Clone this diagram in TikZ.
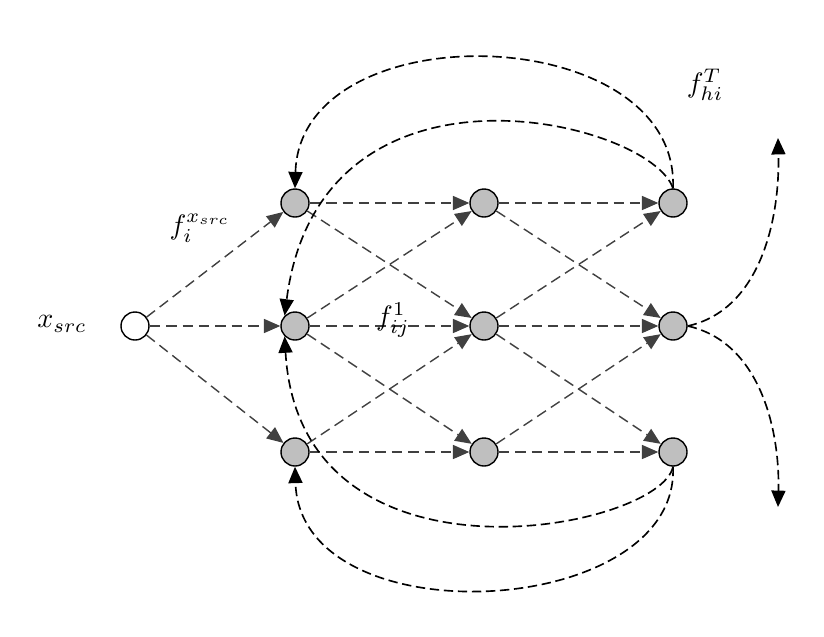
\documentclass[tikz,border=0pt]{standalone}
\usetikzlibrary{arrows.meta}
\begin{document}
\begin{tikzpicture}[x=0.03cm,y=-0.03cm,
  nd/.style={circle,draw,line width=1.2pt,fill=gray!50,minimum size=0.84cm,inner sep=0},
  src/.style={nd,fill=white},
  ge/.style={draw=black!75,dash pattern=on 9pt off 5pt,line width=1.2pt,-{Triangle[length=14pt,width=12pt]}},
  be/.style={draw=black,dash pattern=on 8pt off 4pt,line width=1.4pt,-{Triangle[length=14pt,width=12pt]}},
  lb/.style={}]
\useasboundingbox (0,0) rectangle (824,636);
\node[src] (s) at (135,326) {};
\foreach \c/\x in {a/295,b/484,c/673}{
  \node[nd] (\c1) at (\x,203) {};
  \node[nd] (\c2) at (\x,326) {};
  \node[nd] (\c3) at (\x,452) {};}
\foreach \t in {1,2,3} \draw[ge] (s) -- (a\t);
\foreach \u/\v in {a/b,b/c}{
  \foreach \i in {1,2,3}\foreach \j in {1,2,3}{
    \pgfmathtruncatemacro\d{abs(\i-\j)}
    \ifnum\d<2 \draw[ge] (\u\i) -- (\v\j);\fi}}
\coordinate (t1) at (778,138);
\coordinate (t2) at (778,507);
\draw[be] (c1.north) .. controls (680,20) and (300,10) .. (a1.north);
\draw[be] (c1.north) .. controls (650,120) and (320,40) .. (a2.north west);
\draw[be] (c3.south) .. controls (680,620) and (300,640) .. (a3.south);
\draw[be] (c3.south) .. controls (660,530) and (300,600) .. (a2.south west);
\draw[be] (c2.east) .. controls (760,310) and (780,220) .. (t1);
\draw[be] (c2.east) .. controls (760,342) and (780,430) .. (t2);
\node[lb] (l0) at (62,324) {\scalebox{2.4}{$x_{src}$}};
\node[lb] (l1) at (200,228) {\scalebox{2.4}{$f_i^{x_{src}}$}};
\node[lb] (l2) at (393,320) {\scalebox{2.4}{$f_{ij}^{1}$}};
\node[lb] (l3) at (705,85) {\scalebox{2.4}{$f_{hi}^{T}$}};
\end{tikzpicture}
\end{document}
